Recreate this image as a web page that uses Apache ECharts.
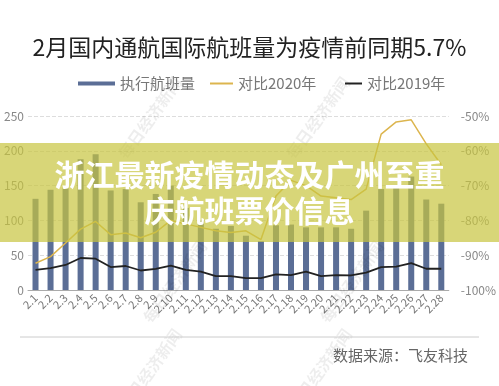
<!DOCTYPE html>
<html><head><meta charset="utf-8">
<script src="https://cdn.jsdelivr.net/npm/echarts@6/dist/echarts.min.js"></script>
<style>html,body{margin:0;padding:0;background:#fff}#c{width:499px;height:386px}</style>
</head><body><div id="c"></div>
<script>
const categories = ['2.1','2.2','2.3','2.4','2.5','2.6','2.7','2.8','2.9','2.10','2.11','2.12','2.13','2.14','2.15','2.16','2.17','2.18','2.19','2.20','2.21','2.22','2.23','2.24','2.25','2.26','2.27','2.28'];
const flights = [131,144,146,188,195,143,145,126,138,150,118,100,88,92,78,70,93,94,90,90,90,88,114,145,147,163,130,124];
const vs2020 = [-92.3,-90.4,-86.5,-82.5,-80.3,-84.1,-83.6,-85.0,-83.4,-80,-81,-82,-83,-83.5,-83,-85.5,-73,-68.5,-70,-73,-73.5,-74,-71,-55.2,-51.7,-51.1,-58,-64];
const vs2019 = [-94.2,-93.7,-92.8,-90.8,-91.0,-93.4,-93.1,-94.4,-93.9,-93.0,-94.2,-94.7,-96.0,-96.0,-96.6,-96.6,-95.5,-95.7,-94.7,-96.0,-95.7,-95.8,-95.0,-93.4,-93.3,-92.3,-93.9,-93.9];
const leftTicks = {min:0, max:250, interval:50};
const rightTicks = {min:-100, max:-50, interval:10};
const titleText = '2月国内通航国际航班量为疫情前同期5.7%';
const seriesNames = ['执行航班量','对比2020年','对比2019年'];
const bannerLines = ['浙江最新疫情动态及广州至重','庆航班票价信息'];
const sourceText = '数据来源：飞友科技';
const watermarkText = '每日经济新闻';

const FONT = '"Noto Sans CJK SC", "Noto Sans", sans-serif';
const chart = echarts.init(document.getElementById('c'), null, {renderer:'canvas'});
const legendBase = {top:71, textStyle:{color:'#777', fontSize:15, fontFamily:FONT}, icon:'rect', itemGap:0, selectedMode:false};
const wm = (x, y) => ({type:'text', z:99, x:x, y:y, rotation:0.95, style:{text:watermarkText, fill:'rgba(0,0,0,0.07)', font:'bold 16px '+FONT, textAlign:'center', textVerticalAlign:'middle'}});
chart.setOption({
  animation:false,
  textStyle:{fontFamily:FONT},
  title:{text:titleText, left:'center', top:31, textStyle:{fontSize:23, color:'#222', fontWeight:'normal', fontFamily:FONT}},
  legend:[
    Object.assign({}, legendBase, {left:73, itemWidth:37, itemHeight:4, data:[seriesNames[0]]}),
    Object.assign({}, legendBase, {left:205, itemWidth:23, itemHeight:2, data:[seriesNames[1]]}),
    Object.assign({}, legendBase, {left:340, itemWidth:17, itemHeight:2, data:[seriesNames[2]]})
  ],
  grid:{left:28, right:48.5, top:116, bottom:96},
  xAxis:{type:'category', data:categories,
    axisLine:{lineStyle:{color:'#aaa'}}, axisTick:{show:false},
    axisLabel:{rotate:45, color:'#777', fontSize:11, margin:6, interval:0}},
  yAxis:[
    {type:'value', min:leftTicks.min, max:leftTicks.max, interval:leftTicks.interval,
     axisLine:{show:false}, axisTick:{show:false},
     axisLabel:{color:'#888', fontSize:12, margin:4},
     splitLine:{lineStyle:{color:'#ddd', type:'dashed'}}},
    {type:'value', min:rightTicks.min, max:rightTicks.max, interval:rightTicks.interval,
     axisLine:{show:false}, axisTick:{show:false},
     axisLabel:{color:'#888', fontSize:12, margin:12, formatter:v=>v+'%'},
     splitLine:{show:false}}
  ],
  series:[
    {name:seriesNames[0], type:'bar', data:flights, barWidth:'40%', itemStyle:{color:'#5b6e96'}},
    {name:seriesNames[1], type:'line', yAxisIndex:1, data:vs2020, symbol:'none', lineStyle:{color:'#dcb54e', width:1.5}, itemStyle:{color:'#dcb54e'}},
    {name:seriesNames[2], type:'line', yAxisIndex:1, data:vs2019, symbol:'none', lineStyle:{color:'#222', width:1.8}, itemStyle:{color:'#222'}}
  ],
  graphic:[
    wm(150, 118), wm(318, 118), wm(175, 282), wm(352, 282), wm(150, 370), wm(320, 370),
    {type:'rect', z:100, shape:{x:0, y:143, width:499, height:99}, style:{fill:'rgba(199,196,62,0.7)'}},
    {type:'text', z:101, x:249.5, y:175, style:{text:bannerLines[0], fill:'#fff', font:'bold 30px '+FONT, textAlign:'center', textVerticalAlign:'middle', shadowColor:'rgba(0,0,0,0.55)', shadowBlur:4, shadowOffsetX:1, shadowOffsetY:1}},
    {type:'text', z:101, x:249.5, y:211, style:{text:bannerLines[1], fill:'#fff', font:'bold 30px '+FONT, textAlign:'center', textVerticalAlign:'middle', shadowColor:'rgba(0,0,0,0.55)', shadowBlur:4, shadowOffsetX:1, shadowOffsetY:1}},
    {type:'line', z:100, shape:{x1:20, y1:337, x2:479, y2:337}, style:{stroke:'#ccc', lineWidth:1}},
    {type:'text', z:100, x:468, y:355, style:{text:sourceText, fill:'#666', font:'15px '+FONT, textAlign:'right', textVerticalAlign:'middle'}}
  ]
});
</script></body></html>
